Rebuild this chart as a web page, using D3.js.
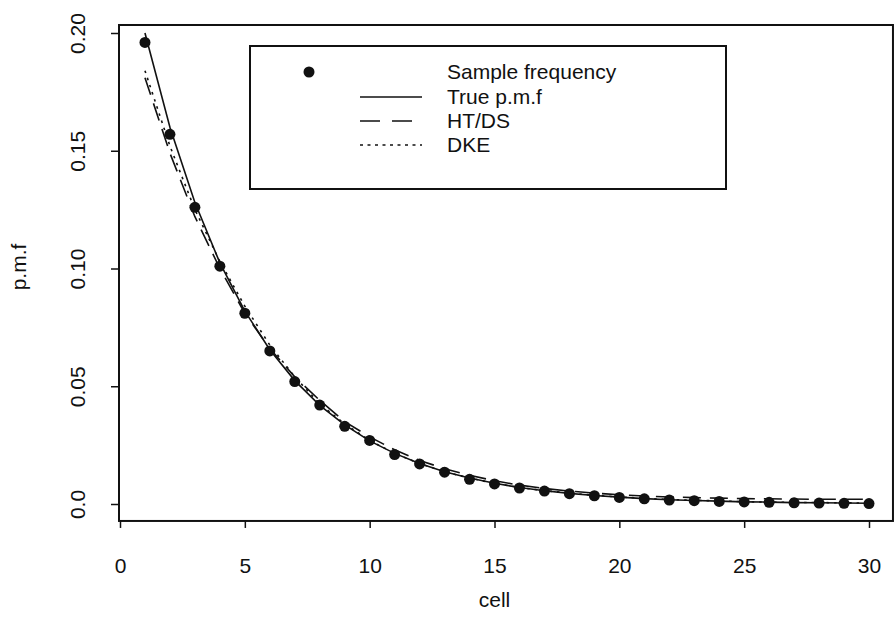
<!DOCTYPE html>
<html>
<head>
<meta charset="utf-8">
<script src="https://cdn.jsdelivr.net/npm/d3@7"></script>
<style>
  body { margin: 0; background: #fff; }
  text { font-family: "Liberation Sans", Arial, sans-serif; fill: #111; }
</style>
</head>
<body>
<div id="chart"></div>
<script>
// Data
var cells = d3.range(1, 31);
var sampleFreq = [0.196, 0.157, 0.126, 0.101, 0.081, 0.065, 0.052, 0.042, 0.033, 0.027,
  0.021, 0.017, 0.0135, 0.0105, 0.0085, 0.0068, 0.0055, 0.0044, 0.0035, 0.0028,
  0.0022, 0.0017, 0.0014, 0.0011, 0.0009, 0.0007, 0.0005, 0.0004, 0.0003, 0.0002];
var truePmf = [0.2, 0.16, 0.128, 0.1024, 0.0819, 0.0655, 0.0524, 0.0419, 0.0336, 0.0268,
  0.0215, 0.0172, 0.0137, 0.011, 0.0088, 0.007, 0.0056, 0.0045, 0.0036, 0.0029,
  0.0023, 0.0018, 0.0015, 0.0012, 0.0009, 0.0008, 0.0006, 0.0005, 0.0004, 0.0003];
var htds = [0.181, 0.149, 0.122, 0.100, 0.081, 0.066, 0.054, 0.044, 0.035, 0.0285,
  0.023, 0.0185, 0.015, 0.0122, 0.0099, 0.008, 0.0066, 0.0055, 0.0046, 0.0039,
  0.0034, 0.003, 0.0027, 0.0025, 0.0023, 0.0022, 0.0021, 0.002, 0.002, 0.002];
var dke = [0.184, 0.152, 0.125, 0.103, 0.084, 0.0675, 0.054, 0.0425, 0.034, 0.027,
  0.0215, 0.0172, 0.0137, 0.011, 0.0088, 0.007, 0.0057, 0.0046, 0.0037, 0.003,
  0.0024, 0.0019, 0.0016, 0.0013, 0.001, 0.0008, 0.0007, 0.0006, 0.0005, 0.0004];

var xTicks = [0, 5, 10, 15, 20, 25, 30];
var yTicks = [0, 0.05, 0.10, 0.15, 0.20];
var yTickLabels = ["0.0", "0.05", "0.10", "0.15", "0.20"];
var legendLabels = ["Sample frequency", "True p.m.f", "HT/DS", "DKE"];

var svgWidth = 895, svgHeight = 636;

var svg = d3.select("#chart").append("svg")
  .attr("width", svgWidth)
  .attr("height", svgHeight);

// scales
var x = d3.scaleLinear().domain([0, 30]).range([120, 869]);
var y = d3.scaleLinear().domain([0, 0.2]).range([504, 33]);

// plot box
var boxL = x(-0.04), boxR = x(30.96), boxT = y(0.2034), boxB = y(-0.0072);
svg.append("rect")
  .attr("x", boxL).attr("y", boxT)
  .attr("width", boxR - boxL).attr("height", boxB - boxT)
  .attr("fill", "none").attr("stroke", "#111").attr("stroke-width", 2);

// axes
var bottomAxis = d3.axisBottom(x).tickValues(xTicks).tickSize(7).tickPadding(30)
  .tickFormat(d3.format("d"));
var xAxis = svg.append("g")
  .attr("transform", `translate(0, ${boxB})`)
  .call(bottomAxis);
xAxis.select(".domain").remove();
xAxis.selectAll("line").attr("stroke", "#111").attr("stroke-width", 1.5);
xAxis.selectAll("text").attr("font-size", 21).attr("font-family", "Liberation Sans, Arial, sans-serif");

var leftAxis = d3.axisLeft(y).tickValues(yTicks).tickSize(8)
  .tickFormat((d, i) => yTickLabels[i]);
var yAxis = svg.append("g")
  .attr("transform", `translate(${boxL}, 0)`)
  .call(leftAxis);
yAxis.select(".domain").remove();
yAxis.selectAll("line").attr("stroke", "#111").attr("stroke-width", 1.5);
yAxis.selectAll("text")
  .attr("font-size", 21)
  .attr("font-family", "Liberation Sans, Arial, sans-serif")
  .attr("text-anchor", "middle")
  .attr("x", null).attr("dy", null)
  .attr("transform", `translate(${85 - boxL}, 0) rotate(-90)`);

// axis titles
svg.append("text")
  .attr("x", x(15)).attr("y", 607)
  .attr("text-anchor", "middle")
  .attr("font-size", 21)
  .text("cell");

svg.append("text")
  .attr("transform", "translate(26, 267) rotate(-90)")
  .attr("text-anchor", "middle")
  .attr("font-size", 21)
  .text("p.m.f");

// lines
var line = d3.line()
  .x((d, i) => x(cells[i]))
  .y(d => y(d));

svg.append("path").datum(truePmf)
  .attr("d", line).attr("fill", "none")
  .attr("stroke", "#111").attr("stroke-width", 1.6);

svg.append("path").datum(htds)
  .attr("d", line).attr("fill", "none")
  .attr("stroke", "#111").attr("stroke-width", 1.6)
  .attr("stroke-dasharray", "18,9");

svg.append("path").datum(dke)
  .attr("d", line).attr("fill", "none")
  .attr("stroke", "#111").attr("stroke-width", 1.6)
  .attr("stroke-dasharray", "2.5,5");

// sample frequency points
svg.append("g").selectAll("circle")
  .data(sampleFreq)
  .enter()
  .append("circle")
  .attr("cx", (d, i) => x(cells[i]))
  .attr("cy", d => y(d))
  .attr("r", 5.5)
  .attr("fill", "#111");

// legend
var legend = svg.append("g");
legend.append("rect")
  .attr("x", 250).attr("y", 46)
  .attr("width", 476).attr("height", 143)
  .attr("fill", "#fff").attr("stroke", "#111").attr("stroke-width", 2);

var rowY = [72, 97, 121, 145];
var dashes = [null, null, "20,12", "3,4.5"];
legendLabels.forEach(function(lab, i) {
  if (i === 0) {
    legend.append("circle")
      .attr("cx", 309).attr("cy", rowY[i]).attr("r", 5.5).attr("fill", "#111");
  } else {
    legend.append("line")
      .attr("x1", 360).attr("x2", 422)
      .attr("y1", rowY[i]).attr("y2", rowY[i])
      .attr("stroke", "#111").attr("stroke-width", 1.6)
      .attr("stroke-dasharray", dashes[i]);
  }
  legend.append("text")
    .attr("x", 447).attr("y", rowY[i] + 7)
    .attr("font-size", 21)
    .text(lab);
});
</script>
</body>
</html>
